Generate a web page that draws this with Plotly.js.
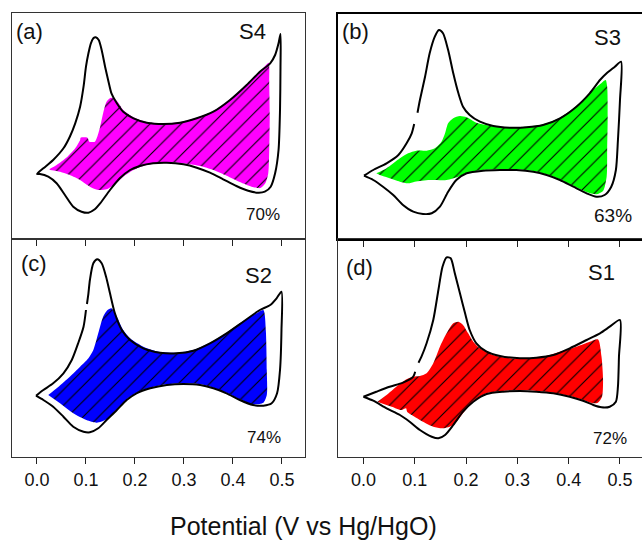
<!DOCTYPE html>
<html><head><meta charset="utf-8">
<script src="https://cdn.plot.ly/plotly-3.0.1.min.js"></script>
<style>html,body{margin:0;padding:0;overflow:hidden;background:#fff;width:642px;height:542px}#chart{width:660px;height:542px}</style>
</head><body><div id="chart"></div>
<script>
// Potential (V vs Hg/HgO) and current (arbitrary units)
const tickVals = [0.0, 0.1, 0.2, 0.3, 0.4, 0.5];
const tickText = ["0.0", "0.1", "0.2", "0.3", "0.4", "0.5"];
const panelLabels = ["(a)", "(b)", "(c)", "(d)"];
const sampleNames = ["S4", "S3", "S2", "S1"];
const retention = ["70%", "63%", "74%", "72%"];
const fillColors = ["#ff00ff", "#00ff00", "#0000ff", "#ff0000"];

// (a) S4
const s4CvX = [0.000,0.013,0.033,0.054,0.067,0.078,0.088,0.095,0.100,0.105,0.110,0.115,0.120,0.126,0.132,0.139,0.146,0.152,0.163,0.176,0.197,0.224,0.258,0.292,0.326,0.360,0.394,0.428,0.455,0.476,0.486,0.493,0.497,0.497,0.496,0.493,0.486,0.477,0.465,0.452,0.431,0.407,0.380,0.353,0.326,0.299,0.265,0.237,0.210,0.190,0.169,0.149,0.129,0.118,0.105,0.091,0.074,0.057,0.040,0.023,0.006,0.000];
const s4CvY = [-4.80,-4.23,-3.40,-2.23,-1.07,0.27,1.93,3.93,5.93,7.27,8.27,8.77,8.87,8.60,7.60,5.93,4.43,3.27,2.27,1.43,0.77,0.33,0.20,0.33,0.77,1.43,2.60,4.10,5.43,6.27,7.10,8.27,9.20,5.93,1.60,-2.40,-4.73,-6.07,-6.57,-6.67,-6.47,-6.00,-5.33,-4.67,-4.17,-3.83,-3.67,-3.73,-4.00,-4.40,-5.23,-6.40,-7.73,-8.33,-8.67,-8.57,-8.07,-6.90,-5.73,-5.07,-4.80,-4.80];
const s4FadeX = [0.025,0.040,0.061,0.078,0.088,0.089,0.103,0.107,0.118,0.123,0.129,0.135,0.142,0.151,0.159,0.166,0.176,0.197,0.224,0.258,0.292,0.326,0.360,0.394,0.428,0.455,0.469,0.473,0.474,0.475,0.474,0.472,0.466,0.456,0.438,0.414,0.387,0.360,0.333,0.305,0.271,0.244,0.217,0.197,0.176,0.159,0.142,0.125,0.108,0.088,0.067,0.047,0.027];
const s4FadeY = [-4.33,-3.90,-3.13,-2.23,-1.40,-1.17,-1.17,-1.57,-1.57,-1.07,-0.07,1.27,2.43,2.83,2.67,2.33,1.60,0.87,0.40,0.27,0.40,0.83,1.50,2.67,4.17,5.43,6.17,6.33,4.27,0.93,-2.40,-4.73,-5.73,-6.20,-6.07,-5.60,-4.97,-4.40,-4.00,-3.77,-3.63,-3.73,-4.00,-4.40,-5.07,-5.83,-6.33,-6.40,-6.07,-5.40,-4.90,-4.57,-4.40];

// (b) S3
const s3CvX = [0.001,0.019,0.045,0.068,0.084,0.094,0.0988,null,0.1053,0.110,0.120,0.129,0.139,0.147,0.155,0.165,0.175,0.185,0.194,0.207,0.227,0.253,0.285,0.318,0.350,0.383,0.415,0.441,0.461,0.474,0.490,0.502,0.500,0.496,0.492,0.483,0.470,0.454,0.435,0.409,0.383,0.357,0.331,0.298,0.266,0.233,0.201,0.181,0.165,0.149,0.133,0.116,0.097,0.077,0.058,0.038,0.019,0.001];
const s3CvY = [-4.92,-4.35,-3.68,-2.85,-1.68,-0.68,0.25,null,1.38,2.65,4.98,7.32,8.98,9.65,9.32,7.65,5.32,3.32,1.98,1.15,0.48,0.05,-0.12,-0.08,0.15,0.82,1.98,3.32,4.65,5.32,5.98,6.48,2.65,-1.35,-4.35,-6.02,-6.85,-7.02,-6.68,-6.02,-5.35,-4.85,-4.52,-4.35,-4.35,-4.42,-4.68,-5.35,-6.52,-8.02,-8.68,-8.75,-8.52,-7.85,-6.85,-6.02,-5.35,-4.92];
const s3FadeX = [0.025,0.045,0.071,0.087,0.103,0.123,0.139,0.152,0.159,0.165,0.175,0.188,0.201,0.220,0.253,0.285,0.318,0.350,0.383,0.415,0.441,0.461,0.472,0.475,0.476,0.475,0.474,0.467,0.454,0.435,0.409,0.383,0.357,0.331,0.298,0.266,0.233,0.201,0.185,0.162,0.129,0.100,0.087,0.071,0.051,0.032];
const s3FadeY = [-4.68,-4.18,-3.18,-2.68,-2.42,-2.42,-2.18,-1.52,-0.68,0.32,0.82,1.05,0.92,0.38,0.02,-0.08,-0.02,0.22,0.88,2.05,3.32,4.22,4.65,3.98,0.98,-2.35,-5.02,-6.45,-6.78,-6.55,-5.92,-5.28,-4.78,-4.45,-4.28,-4.28,-4.35,-4.62,-5.02,-5.35,-5.35,-5.52,-5.68,-5.52,-5.18,-4.85];

// (c) S2
const s2CvX = [-0.002,0.013,0.033,0.054,0.071,0.084,0.095,0.100,null,0.102,0.105,0.108,0.115,0.123,0.132,0.141,0.149,0.159,0.173,0.190,0.217,0.251,0.285,0.319,0.353,0.387,0.421,0.455,0.476,0.489,0.499,0.499,0.496,0.490,0.479,0.462,0.441,0.414,0.387,0.360,0.333,0.299,0.265,0.231,0.203,0.183,0.163,0.142,0.125,0.108,0.095,0.074,0.054,0.033,0.013,-0.002];
const s2CvY = [-4.72,-4.15,-3.48,-2.48,-1.15,0.52,2.18,3.85,null,4.45,5.52,6.85,8.52,8.92,8.52,7.18,5.52,3.52,1.85,0.85,0.02,-0.42,-0.48,-0.22,0.52,1.52,2.68,3.85,4.35,5.02,5.68,1.85,-2.15,-4.48,-5.48,-5.72,-5.65,-5.15,-4.48,-3.98,-3.65,-3.55,-3.65,-3.98,-4.48,-5.15,-6.15,-7.15,-7.98,-8.38,-8.32,-7.82,-6.82,-5.82,-5.15,-4.72];
const s2FadeX = [0.023,0.044,0.067,0.088,0.105,0.115,0.125,0.135,0.144,0.152,0.163,0.176,0.190,0.217,0.251,0.285,0.319,0.353,0.387,0.421,0.448,0.462,0.467,0.469,0.469,0.462,0.441,0.414,0.387,0.360,0.333,0.299,0.265,0.231,0.203,0.183,0.163,0.142,0.122,0.101,0.074,0.047];
const s2FadeY = [-4.65,-3.82,-2.82,-1.82,-0.98,-0.15,1.52,3.18,3.85,4.02,3.18,1.85,1.02,0.18,-0.35,-0.42,-0.15,0.58,1.58,2.75,3.52,3.85,1.85,-2.15,-4.65,-5.42,-5.58,-5.08,-4.42,-3.92,-3.58,-3.48,-3.58,-3.92,-4.42,-5.08,-6.08,-7.08,-7.42,-7.15,-6.48,-5.48];

// (d) S1
const s1CvX = [0.000,0.025,0.051,0.077,0.097,0.1007,null,0.1072,0.113,0.123,0.136,0.146,0.154,0.162,0.170,0.178,0.188,0.198,0.207,0.220,0.240,0.266,0.305,0.337,0.370,0.402,0.435,0.461,0.480,0.500,0.498,0.496,0.492,0.480,0.464,0.448,0.428,0.402,0.370,0.337,0.305,0.272,0.240,0.214,0.194,0.175,0.159,0.146,0.133,0.110,0.090,0.071,0.045,0.019,0.000];
const s1CvY = [-4.87,-4.37,-3.87,-3.47,-2.87,-2.37,null,-1.47,-0.87,0.47,2.80,5.80,8.13,9.07,8.97,7.47,5.47,3.47,1.80,0.47,-0.37,-0.80,-1.03,-0.97,-0.70,-0.03,0.80,1.47,2.13,2.80,-0.87,-3.87,-5.37,-5.87,-5.93,-5.70,-5.27,-4.87,-4.53,-4.37,-4.30,-4.37,-4.60,-5.37,-6.37,-7.70,-8.70,-9.03,-8.87,-8.20,-7.37,-6.70,-6.03,-5.27,-4.87];
const s1FadeX = [0.027,0.045,0.064,0.084,0.097,0.110,0.123,0.136,0.149,0.162,0.175,0.185,0.194,0.204,0.214,0.227,0.253,0.285,0.318,0.350,0.383,0.415,0.441,0.457,0.464,0.467,0.465,0.457,0.448,0.428,0.402,0.370,0.337,0.305,0.272,0.240,0.214,0.194,0.175,0.155,0.136,0.116,0.097,0.085,0.083,0.074,0.055,0.035];
const s1FadeY = [-5.37,-4.70,-3.87,-3.13,-2.87,-2.80,-2.53,-1.53,0.13,1.47,2.47,2.63,2.30,1.47,0.63,-0.03,-0.70,-1.03,-1.03,-0.87,-0.37,0.13,0.63,0.87,-0.87,-3.20,-4.87,-5.47,-5.53,-5.20,-4.80,-4.47,-4.30,-4.23,-4.30,-4.53,-5.30,-6.53,-7.70,-8.03,-7.87,-7.37,-6.80,-6.37,-6.03,-6.20,-5.87,-5.53];

const W = 660, H = 542;
const fx = p => p / W;
const fy = p => 1 - p / H;

const panels = [
  {cvx:s4CvX, cvy:s4CvY, fx_:s4FadeX, fy_:s4FadeY, xa:'x',  ya:'y'},
  {cvx:s3CvX, cvy:s3CvY, fx_:s3FadeX, fy_:s3FadeY, xa:'x2', ya:'y2'},
  {cvx:s2CvX, cvy:s2CvY, fx_:s2FadeX, fy_:s2FadeY, xa:'x3', ya:'y3'},
  {cvx:s1CvX, cvy:s1CvY, fx_:s1FadeX, fy_:s1FadeY, xa:'x4', ya:'y4'}
];

const data = [];
panels.forEach((p, i) => {
  data.push({
    type:'scatter', x:p.fx_, y:p.fy_, xaxis:p.xa, yaxis:p.ya, mode:'lines',
    fill:'toself', fillcolor:fillColors[i],
    fillpattern:{shape:'/', fgcolor:'#000', bgcolor:fillColors[i], size:11, solidity:0.1},
    line:{width:0, shape:'spline', smoothing:0.7, color:fillColors[i]},
    hoverinfo:'skip', showlegend:false
  });
  data.push({
    type:'scatter', x:p.cvx, y:p.cvy, xaxis:p.xa, yaxis:p.ya, mode:'lines',
    line:{color:'#000', width:2, shape:'spline', smoothing:0.7},
    connectgaps:false, hoverinfo:'skip', showlegend:false
  });
});

function xAxis(dom, rng, anchor, labels, lw, lc) {
  return {domain:dom, range:rng, anchor:anchor, showline:true, mirror:true, linecolor:lc, linewidth:lw,
    ticks:'outside', ticklen:6, tickwidth:1, tickcolor:'#222', tickvals:tickVals, ticktext:tickText,
    showticklabels:labels, tickfont:{size:18, color:'#111'}, showgrid:false, zeroline:false, fixedrange:true};
}
function yAxis(dom, rng, anchor, lw, lc) {
  return {domain:dom, range:rng, anchor:anchor, showline:true, mirror:true, linecolor:lc, linewidth:lw,
    ticks:'', showticklabels:false, showgrid:false, zeroline:false, fixedrange:true};
}

const leftX = [fx(12), fx(305)], rightX = [fx(338), fx(650)];
const leftRange = [-0.051, 0.547], rightRange = [-0.0497, 0.5585];
const topY = [fy(239), fy(13)], topYb = [fy(239), fy(14)], botY = [fy(457), fy(239)];

const annText = (t, px, py, size, anchor) => ({
  xref:'paper', yref:'paper', x:fx(px), y:fy(py), text:t, showarrow:false,
  xanchor:anchor || 'center', yanchor:'middle', font:{size:size, color:'#111'}
});

const annotations = [
  annText(panelLabels[0], 14, 31, 22, 'left'),
  annText(sampleNames[0], 252, 32, 22),
  annText(retention[0], 263, 214, 17),
  annText(panelLabels[1], 340, 32, 22, 'left'),
  annText(sampleNames[1], 607, 38, 22),
  annText(retention[1], 613, 215, 19),
  annText(panelLabels[2], 19, 263, 22, 'left'),
  annText(sampleNames[2], 258, 275, 22),
  annText(retention[2], 264, 437, 17),
  annText(panelLabels[3], 344, 267, 22, 'left'),
  annText(sampleNames[3], 601, 272, 22),
  annText(retention[3], 610, 438, 17),
  annText('Potential (V vs Hg/HgO)', 303, 526, 25)
];

const layout = {
  width:W, height:H, margin:{l:0, r:0, t:0, b:0, pad:0},
  paper_bgcolor:'#fff', plot_bgcolor:'rgba(0,0,0,0)', showlegend:false,
  font:{family:'Arial, "Liberation Sans", sans-serif', color:'#111'},
  xaxis: xAxis(leftX, leftRange, 'y', false, 1, '#333'),
  yaxis: yAxis(topY, [-11.3, 11.3], 'x', 1, '#333'),
  xaxis2: xAxis(rightX, rightRange, 'y2', false, 2, '#000'),
  yaxis2: yAxis(topYb, [-11.25, 11.25], 'x2', 2, '#000'),
  xaxis3: xAxis(leftX, leftRange, 'y3', true, 1, '#333'),
  yaxis3: yAxis(botY, [-10.85, 10.95], 'x3', 1, '#333'),
  xaxis4: xAxis(rightX, rightRange, 'y4', true, 1, '#333'),
  yaxis4: yAxis(botY, [-10.9, 10.9], 'x4', 1, '#333'),
  annotations: annotations
};

Plotly.newPlot('chart', data, layout, {staticPlot:true, displayModeBar:false});
</script></body></html>
